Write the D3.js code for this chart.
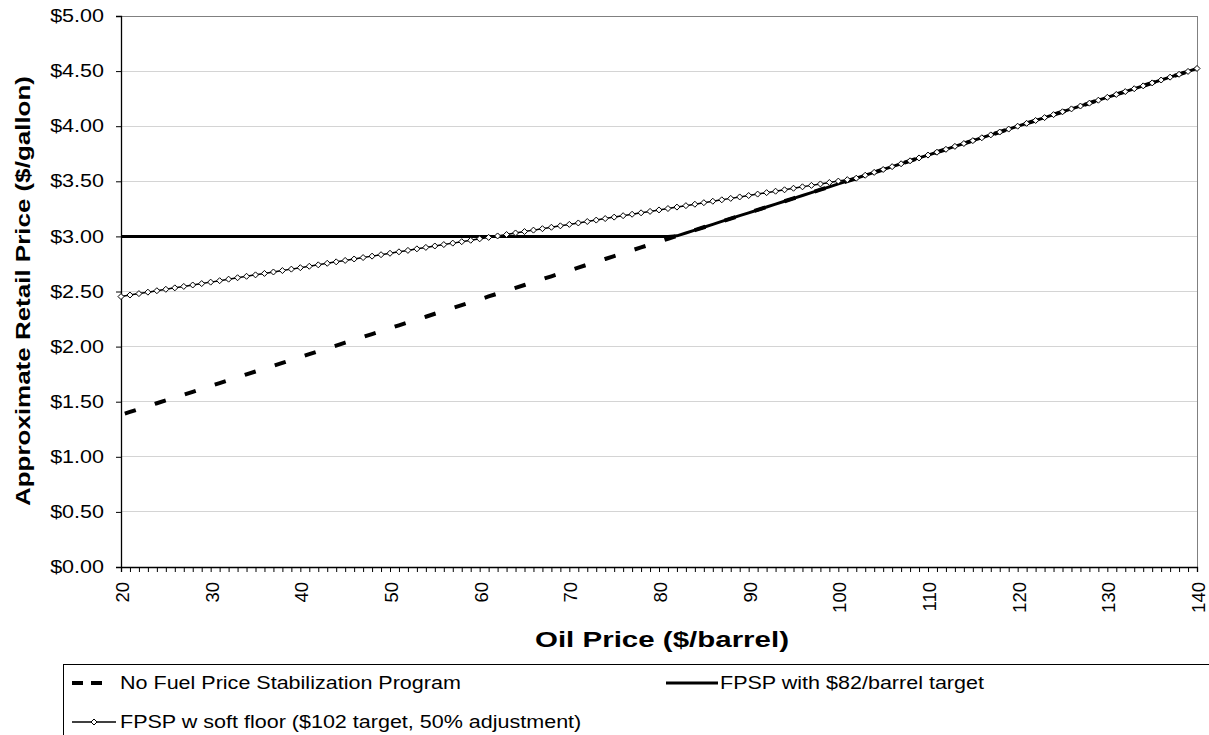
<!DOCTYPE html>
<html><head><meta charset="utf-8">
<script src="https://cdn.jsdelivr.net/npm/d3@7"></script>
<style>body{margin:0;background:#fff;overflow:hidden} text{font-family:"Liberation Sans",Arial,sans-serif;fill:#000}</style>
</head><body><svg id="c" width="1209" height="735"></svg>
<script>
const oilPrice = [20,21,22,23,24,25,26,27,28,29,30,31,32,33,34,35,36,37,38,39,40,41,42,43,44,45,46,47,48,49,50,51,52,53,54,55,56,57,58,59,60,61,62,63,64,65,66,67,68,69,70,71,72,73,74,75,76,77,78,79,80,81,82,83,84,85,86,87,88,89,90,91,92,93,94,95,96,97,98,99,100,101,102,103,104,105,106,107,108,109,110,111,112,113,114,115,116,117,118,119,120,121,122,123,124,125,126,127,128,129,130,131,132,133,134,135,136,137,138,139,140];
const noProgram = [1.381,1.407,1.433,1.459,1.486,1.512,1.538,1.564,1.590,1.617,
 1.643,1.669,1.695,1.721,1.748,1.774,1.800,1.826,1.852,1.878,
 1.905,1.931,1.957,1.983,2.009,2.036,2.062,2.088,2.114,2.140,
 2.167,2.193,2.219,2.245,2.271,2.298,2.324,2.350,2.376,2.402,
 2.428,2.455,2.481,2.507,2.533,2.559,2.586,2.612,2.638,2.664,
 2.690,2.717,2.743,2.769,2.795,2.821,2.847,2.874,2.900,2.926,
 2.952,2.978,3.005,3.031,3.057,3.083,3.109,3.136,3.162,3.188,
 3.214,3.240,3.267,3.293,3.319,3.345,3.371,3.397,3.424,3.450,
 3.476,3.502,3.528,3.555,3.581,3.607,3.633,3.659,3.686,3.712,
 3.738,3.764,3.790,3.817,3.843,3.869,3.895,3.921,3.947,3.974,
 4.000,4.026,4.052,4.078,4.105,4.131,4.157,4.183,4.209,4.236,
 4.262,4.288,4.314,4.340,4.366,4.393,4.419,4.445,4.471,4.497,
 4.524];
const fpsp82 = [3.00,3.00,3.00,3.00,3.00,3.00,3.00,3.00,3.00,3.00,
 3.00,3.00,3.00,3.00,3.00,3.00,3.00,3.00,3.00,3.00,
 3.00,3.00,3.00,3.00,3.00,3.00,3.00,3.00,3.00,3.00,
 3.00,3.00,3.00,3.00,3.00,3.00,3.00,3.00,3.00,3.00,
 3.00,3.00,3.00,3.00,3.00,3.00,3.00,3.00,3.00,3.00,
 3.00,3.00,3.00,3.00,3.00,3.00,3.00,3.00,3.00,3.00,
 3.00,3.00,3.005,3.031,3.057,3.083,3.109,3.136,3.162,3.188,
 3.214,3.240,3.267,3.293,3.319,3.345,3.371,3.397,3.424,3.450,
 3.476,3.502,3.528,3.555,3.581,3.607,3.633,3.659,3.686,3.712,
 3.738,3.764,3.790,3.817,3.843,3.869,3.895,3.921,3.947,3.974,
 4.000,4.026,4.052,4.078,4.105,4.131,4.157,4.183,4.209,4.236,
 4.262,4.288,4.314,4.340,4.366,4.393,4.419,4.445,4.471,4.497,
 4.524];
const softFloor = [2.454,2.468,2.481,2.494,2.507,2.520,2.533,2.546,2.559,2.572,
 2.585,2.598,2.612,2.625,2.638,2.651,2.664,2.677,2.690,2.703,
 2.716,2.729,2.742,2.756,2.769,2.782,2.795,2.808,2.821,2.834,
 2.847,2.860,2.873,2.887,2.900,2.913,2.926,2.939,2.952,2.965,
 2.978,2.991,3.004,3.017,3.031,3.044,3.057,3.070,3.083,3.096,
 3.109,3.122,3.135,3.148,3.162,3.175,3.188,3.201,3.214,3.227,
 3.240,3.253,3.266,3.279,3.292,3.306,3.319,3.332,3.345,3.358,
 3.371,3.384,3.397,3.410,3.423,3.437,3.450,3.463,3.476,3.489,
 3.502,3.515,3.528,3.555,3.581,3.607,3.633,3.659,3.686,3.712,
 3.738,3.764,3.790,3.817,3.843,3.869,3.895,3.921,3.947,3.974,
 4.000,4.026,4.052,4.078,4.105,4.131,4.157,4.183,4.209,4.236,
 4.262,4.288,4.314,4.340,4.366,4.393,4.419,4.445,4.471,4.497,
 4.524];
const xTickLabels = [20,30,40,50,60,70,80,90,100,110,120,130,140];
const yTickValues = [0,0.5,1,1.5,2,2.5,3,3.5,4,4.5,5];
const seriesNames = ["No Fuel Price Stabilization Program","FPSP with $82/barrel target","FPSP w soft floor ($102 target, 50% adjustment)"];
const yTitle = "Approximate Retail Price ($/gallon)";
const xTitle = "Oil Price ($/barrel)";

const svg = d3.select("#c");
const L = 121, R = 1197, T = 16, B = 567;
const SX = 1.23; // horizontal stretch of the reference lettering
const x = d3.scaleLinear().domain([20,140]).range([L,R]);
const y = d3.scaleLinear().domain([0,5]).range([B,T]);

svg.append("g").selectAll("line").data(yTickValues.filter(v=>v>0)).join("line")
  .attr("x1",L).attr("x2",R).attr("y1",d=>y(d)).attr("y2",d=>y(d))
  .attr("stroke",v=>v===5?"#808080":"#d4d4d4").attr("stroke-width",1).attr("shape-rendering","crispEdges");
svg.append("line").attr("x1",R).attr("x2",R).attr("y1",T).attr("y2",B)
  .attr("stroke","#808080").attr("shape-rendering","crispEdges");

const yAxis = d3.axisLeft(y).tickValues(yTickValues).tickSize(5).tickPadding(12)
  .tickFormat(d=>"$"+d3.format(".2f")(d));
const gy = svg.append("g").attr("transform",`translate(${L},0)`).call(yAxis);
gy.selectAll("text").style("font-size","17.5px").attr("font-family",null)
  .attr("transform",function(){const xx=+d3.select(this).attr("x");return `translate(${xx*(1-SX)},0) scale(${SX},1)`;});
gy.select(".domain").attr("stroke","#000").attr("stroke-width",1.3);

const xAxis = d3.axisBottom(x).tickValues(oilPrice).tickSize(5).tickFormat("");
const gx = svg.append("g").attr("transform",`translate(0,${B})`).call(xAxis);
gx.select(".domain").attr("stroke","#000").attr("stroke-width",1.3);
gx.selectAll(".tick line").attr("stroke","#000");
svg.append("g").selectAll("text").data(xTickLabels).join("text")
  .attr("transform",d=>`translate(${x(d)+8},${B+15}) rotate(-90)`)
  .attr("text-anchor","end").style("font-size","18.5px").text(d=>d);

const line = vals => d3.line().x((d,i)=>x(oilPrice[i])).y(d=>y(d))(vals);
svg.append("path").attr("d",line(noProgram)).attr("fill","none").attr("stroke","#000")
  .attr("stroke-width",4).attr("stroke-dasharray","11.5,20").attr("stroke-dashoffset",-4);
svg.append("path").attr("d",line(fpsp82)).attr("fill","none").attr("stroke","#000").attr("stroke-width",3);
svg.append("path").attr("d",line(softFloor)).attr("fill","none").attr("stroke","#000").attr("stroke-width",1.5);
const diamond = "M0,-3L3,0L0,3L-3,0Z";
svg.append("g").selectAll("path").data(softFloor).join("path")
  .attr("transform",(d,i)=>`translate(${x(oilPrice[i])},${y(d)})`)
  .attr("d",diamond).attr("fill","#fff").attr("stroke","#000").attr("stroke-width",1);

svg.append("text").attr("transform",`translate(30,291) rotate(-90)`).attr("text-anchor","middle")
  .attr("textLength",430).attr("lengthAdjust","spacingAndGlyphs")
  .style("font-size","21px").style("font-weight","bold").text(yTitle);
svg.append("text").attr("x",662).attr("y",647).attr("text-anchor","middle")
  .attr("textLength",254).attr("lengthAdjust","spacingAndGlyphs")
  .style("font-size","22px").style("font-weight","bold").text(xTitle);

const lg = svg.append("g");
lg.append("line").attr("x1",63).attr("x2",1209).attr("y1",664.5).attr("y2",664.5).attr("stroke","#000");
lg.append("line").attr("x1",63.5).attr("x2",63.5).attr("y1",664).attr("y2",735).attr("stroke","#000");
lg.append("line").attr("x1",72).attr("x2",102).attr("y1",683).attr("y2",683).attr("stroke","#000")
  .attr("stroke-width",4).attr("stroke-dasharray","11,8");
lg.append("line").attr("x1",666).attr("x2",718).attr("y1",683).attr("y2",683).attr("stroke","#000").attr("stroke-width",3);
lg.append("line").attr("x1",72).attr("x2",116).attr("y1",722).attr("y2",722).attr("stroke","#000").attr("stroke-width",1.5);
lg.append("path").attr("transform","translate(94,722)").attr("d",diamond).attr("fill","#fff").attr("stroke","#000");
const legendText = [[120,689,seriesNames[0]],[720,689,seriesNames[1]],[120,728,seriesNames[2]]];
lg.selectAll("text.lt").data(legendText).join("text").attr("class","lt")
  .attr("transform",d=>`translate(${d[0]},${d[1]}) scale(${SX},1)`)
  .style("font-size","17.5px").text(d=>d[2]);
</script></body></html>
